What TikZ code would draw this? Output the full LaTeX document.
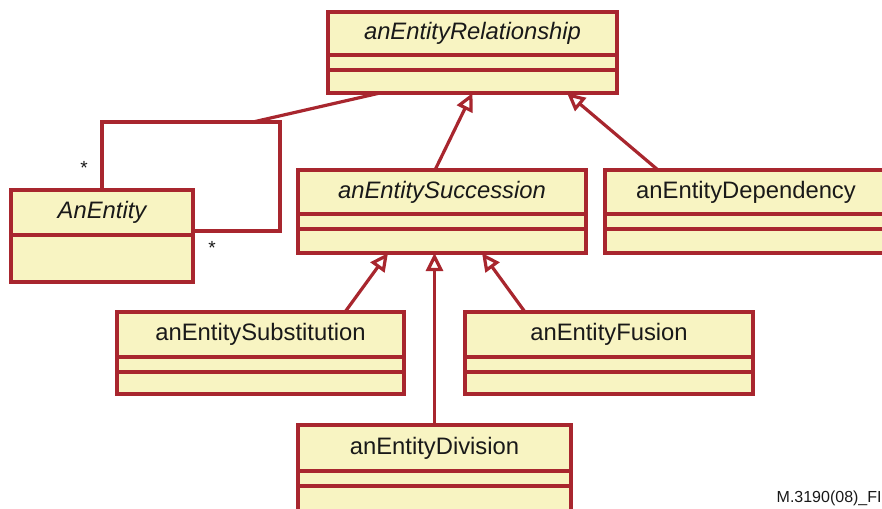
\documentclass[tikz,border=0pt]{standalone}
\usepackage{fontspec}
\setmainfont{Liberation Sans}
\usepackage{xcolor}
\usepackage{tikz}
\usetikzlibrary{positioning,arrows.meta}

\definecolor{umlred}{RGB}{168,38,46}
\definecolor{umlfill}{RGB}{248,244,194}
\definecolor{umltext}{RGB}{25,25,25}

\begin{document}
\begin{tikzpicture}
[x=0.5pt, y=-0.5pt,
    classhead/.style={rectangle, draw=umlred, fill=umlfill, line width=1.6pt,
    inner sep=0pt, outer sep=0pt, anchor=north west, text=umltext,
    font=\fontsize{11.9pt}{13pt}\selectfont},
    classpart/.style={rectangle, draw=umlred, fill=umlfill, line width=1.6pt,
    inner sep=0pt, outer sep=0pt, minimum height=7.5pt},
    inherit/.style={draw=umlred, line width=1.6pt,
    -{Triangle[open, length=9pt, width=8.5pt]}},
    assoc/.style={draw=umlred, line width=1.6pt},
    mult/.style={font=\fontsize{9.5pt}{10pt}\selectfont, text=umltext, inner sep=0pt}
    ]
    \useasboundingbox (0,0) rectangle (882,508);

    \node[classhead, minimum width=144.5pt, minimum height=21.5pt] (rel) at (328,12) {\itshape anEntityRelationship};
    \node[classpart, minimum width=144.5pt, below=0pt of rel] (rel-a) {};
    \node[classpart, minimum width=144.5pt, minimum height=11.5pt, below=0pt of rel-a] (rel-b) {};

    \node[classhead, minimum width=91pt, minimum height=22.5pt] (ent) at (11,190) {\itshape AnEntity};
    \node[classpart, minimum width=91pt, minimum height=23.5pt, below=0pt of ent] (ent-a) {};

    \node[classhead, minimum width=144pt, minimum height=22pt] (succ) at (298,170) {\itshape anEntitySuccession};
    \node[classpart, minimum width=144pt, below=0pt of succ] (succ-a) {};
    \node[classpart, minimum width=144pt, minimum height=12pt, below=0pt of succ-a] (succ-b) {};

    \node[classhead, minimum width=141pt, minimum height=22pt] (dep) at (605,170) {anEntityDependency};
    \node[classpart, minimum width=141pt, below=0pt of dep] (dep-a) {};
    \node[classpart, minimum width=141pt, minimum height=12pt, below=0pt of dep-a] (dep-b) {};

    \node[classhead, minimum width=143.5pt, minimum height=22.5pt] (subst) at (117,312) {anEntitySubstitution};
    \node[classpart, minimum width=143.5pt, below=0pt of subst] (subst-a) {};
    \node[classpart, minimum width=143.5pt, minimum height=11pt, below=0pt of subst-a] (subst-b) {};

    \node[classhead, minimum width=144pt, minimum height=22.5pt] (fus) at (465,312) {anEntityFusion};
    \node[classpart, minimum width=144pt, below=0pt of fus] (fus-a) {};
    \node[classpart, minimum width=144pt, minimum height=11pt, below=0pt of fus-a] (fus-b) {};

    \node[classhead, minimum width=136.5pt, minimum height=23pt] (div) at (298,425) {anEntityDivision};
    \node[classpart, minimum width=136.5pt, below=0pt of div] (div-a) {};
    \node[classpart, minimum width=136.5pt, minimum height=13pt, below=0pt of div-a] (div-b) {};

    \draw[inherit] ([xshift=-3.5pt]succ.north) -- (rel-b.south);
    \draw[inherit] ([xshift=26.5pt]dep.north west) -- ([xshift=-25pt]rel-b.south east);
    \draw[inherit] ([xshift=114pt]subst.north west) -- ([xshift=45pt]succ-b.south west);
    \draw[inherit] ([xshift=30pt]fus.north west) -- ([xshift=-52pt]succ-b.south east);
    \draw[inherit] (div.north) -- (div.north |- succ-b.south);

    \coordinate (loop) at (280,122);
    \coordinate (join) at (253,122);
    \draw[assoc] (ent.north) |- (loop) |- ([yshift=2pt]ent.south east);
    \draw[assoc] ([xshift=26pt]rel-b.south west) -- (join);
    \node[mult] (m-top) at (84,168) {*};
    \node[mult] (m-right) at (212,248) {*};

    \node[anchor=east, inner sep=0pt, text=umltext, font=\fontsize{8pt}{9pt}\selectfont] (fig) at (882,498) {M.3190(08)\_FI};
\end{tikzpicture}
\end{document}
